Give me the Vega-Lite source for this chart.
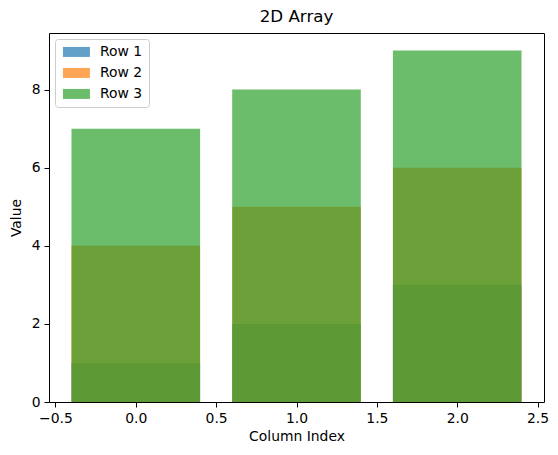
{
  "$schema": "https://vega.github.io/schema/vega-lite/v6.json",
  "autosize": {"type": "none"},
  "width": 495,
  "height": 369,
  "padding": {"left": 49, "top": 33, "right": 14, "bottom": 53},
  "title": {
    "text": "2D Array",
    "font": "DejaVu Sans",
    "fontSize": 16.7,
    "fontWeight": "normal",
    "color": "black",
    "offset": 7
  },
  "config": {
    "view": {"stroke": "black", "strokeWidth": 1},
    "scale": {"continuousPadding": 0},
    "axis": {
      "domain": false,
      "grid": false,
      "tickColor": "black",
      "tickSize": 5,
      "tickWidth": 1,
      "labelPadding": 4,
      "labelFont": "DejaVu Sans",
      "labelFontSize": 13.9,
      "labelColor": "black",
      "titleFont": "DejaVu Sans",
      "titleFontSize": 13.9,
      "titleFontWeight": "normal",
      "titleColor": "black"
    }
  },
  "data": {
    "values": [
      {"col": 0, "value": 1, "row": "Row 1"},
      {"col": 1, "value": 2, "row": "Row 1"},
      {"col": 2, "value": 3, "row": "Row 1"},
      {"col": 0, "value": 4, "row": "Row 2"},
      {"col": 1, "value": 5, "row": "Row 2"},
      {"col": 2, "value": 6, "row": "Row 2"},
      {"col": 0, "value": 7, "row": "Row 3"},
      {"col": 1, "value": 8, "row": "Row 3"},
      {"col": 2, "value": 9, "row": "Row 3"}
    ]
  },
  "mark": {"type": "bar", "size": 128.6, "fillOpacity": 0.7, "stroke": null},
  "encoding": {
    "x": {
      "field": "col",
      "type": "quantitative",
      "scale": {"domain": [-0.54, 2.54], "nice": false, "zero": false, "padding": 0},
      "axis": {
        "title": "Column Index",
        "values": [-0.5, 0, 0.5, 1, 1.5, 2, 2.5],
        "format": ".1f",
        "titlePadding": 5
      }
    },
    "y": {
      "field": "value",
      "type": "quantitative",
      "stack": null,
      "scale": {"domain": [0, 9.45], "nice": false, "padding": 0},
      "axis": {
        "title": "Value",
        "values": [0, 2, 4, 6, 8],
        "titlePadding": 8
      }
    },
    "fill": {
      "field": "row",
      "type": "nominal",
      "scale": {"domain": ["Row 1", "Row 2", "Row 3"], "range": ["#1f77b4", "#ff7f0e", "#2ca02c"]},
      "legend": {
        "title": null,
        "orient": "none",
        "legendX": 6,
        "legendY": 6,
        "padding": 6,
        "strokeColor": "#cccccc",
        "fillColor": "white",
        "cornerRadius": 3,
        "symbolType": "M-1,-1H4.4V1H-1Z",
        "symbolSize": 100,
        "symbolOpacity": 0.7,
        "symbolStrokeWidth": 0,
        "labelOffset": 25,
        "labelFont": "DejaVu Sans",
        "labelFontSize": 13.9,
        "labelColor": "black",
        "rowPadding": 6
      }
    },
    "order": {"field": "value"}
  }
}
